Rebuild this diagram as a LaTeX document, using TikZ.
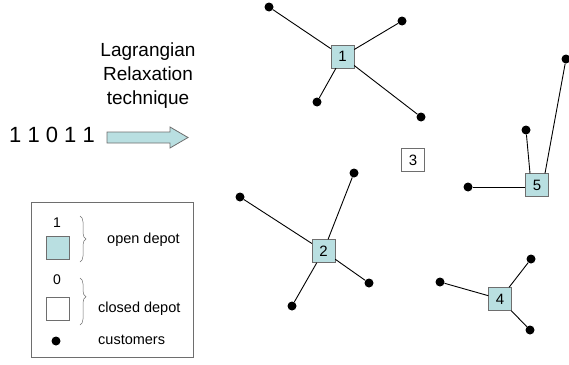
\documentclass[tikz,border=0pt]{standalone}
\usepackage{fontspec}
\setmainfont{Liberation Sans}
\usetikzlibrary{decorations.pathreplacing}
\definecolor{depotfill}{HTML}{B9DFE1}
\definecolor{edgegray}{HTML}{6E6E6E}

\begin{document}
\begin{tikzpicture}[x=1pt,y=-1pt,
        depot/.style={draw=edgegray,fill=depotfill,minimum size=23pt,inner sep=0pt,font=\fontsize{15}{15}\selectfont},
        closed/.style={depot,fill=white},
        cust/.style={circle,fill=black,minimum size=9pt,inner sep=0pt},
        link/.style={line width=0.9pt},
        legtext/.style={anchor=west,inner sep=0pt,font=\fontsize{14.5}{14.5}\selectfont},
        bracket/.style={decorate,draw=edgegray,line width=0.5pt}]
    \useasboundingbox (0,0) rectangle (569,364);
    % depots
    \node[depot] (d1) at (342.5,56.5) {1};
    \node[depot] (d2) at (323.5,251) {2};
    \node[closed] (d3) at (413,160) {3};
    \node[depot] (d4) at (500,299) {4};
    \node[depot] (d5) at (537,185) {5};
    % customers
    \node[cust] (c1a) at (269,7) {};
    \node[cust] (c1b) at (402,21) {};
    \node[cust] (c1c) at (317,102) {};
    \node[cust] (c1d) at (421,117) {};
    \node[cust] (c2a) at (240,197) {};
    \node[cust] (c2b) at (354,173) {};
    \node[cust] (c2c) at (369,283) {};
    \node[cust] (c2d) at (292,306) {};
    \node[cust] (c4a) at (440,282) {};
    \node[cust] (c4b) at (531,259) {};
    \node[cust] (c4c) at (530,330) {};
    \node[cust] (c5a) at (468,187) {};
    \node[cust] (c5b) at (526,130) {};
    \node[cust] (c5c) at (566,59) {};
    \foreach \c in {c1a,c1b,c1c,c1d} \draw[link] (d1) -- (\c);
    \foreach \c in {c2a,c2b,c2c,c2d} \draw[link] (d2) -- (\c);
    \foreach \c in {c4a,c4b,c4c} \draw[link] (d4) -- (\c);
    \draw[link] (c5a) -- (c5a -| d5.west);
    \draw[link] ([xshift=-7pt]d5.north) -- (c5b);
    \draw[link] ([xshift=8pt]d5.north) -- (c5c);
    % code and arrow
    \node[anchor=west,inner sep=0pt,font=\fontsize{22}{22}\selectfont] (code) at (9,135) {1 1 0 1 1};
    \node[align=center,inner sep=0pt,font=\fontsize{19}{24}\selectfont] (method) at (148,76) {Lagrangian\\Relaxation\\technique};
    \draw[edgegray,fill=depotfill,line width=0.8pt] (107,132) -- (170,132) -- (170,127) -- (188,137.5)
        -- (170,148) -- (170,143) -- (107,143) -- cycle;
    % legend
    \node[draw=edgegray,line width=0.6pt,minimum width=162pt,minimum height=155pt,inner sep=0pt] (legend) at (112,279.5) {};
    \node[inner sep=0pt,font=\fontsize{14}{14}\selectfont] (one) at (57,223) {1};
    \node[depot] (open) at (57.5,247.5) {};
    \draw[bracket,decoration={brace,amplitude=6pt}] (80,216) -- (80,262);
    \node[legtext] (opentext) at (107,240) {open depot};
    \node[inner sep=0pt,font=\fontsize{14}{14}\selectfont] (zero) at (57,280) {0};
    \node[closed] (shut) at (57.5,309) {};
    \draw[bracket,decoration={brace,amplitude=6pt,aspect=0.4}] (80,278) -- (80,325);
    \node[legtext] (shuttext) at (98,309) {closed depot};
    \node[cust] (dot) at (56,341) {};
    \node[legtext] (dottext) at (98,340) {customers};
\end{tikzpicture}
\end{document}
